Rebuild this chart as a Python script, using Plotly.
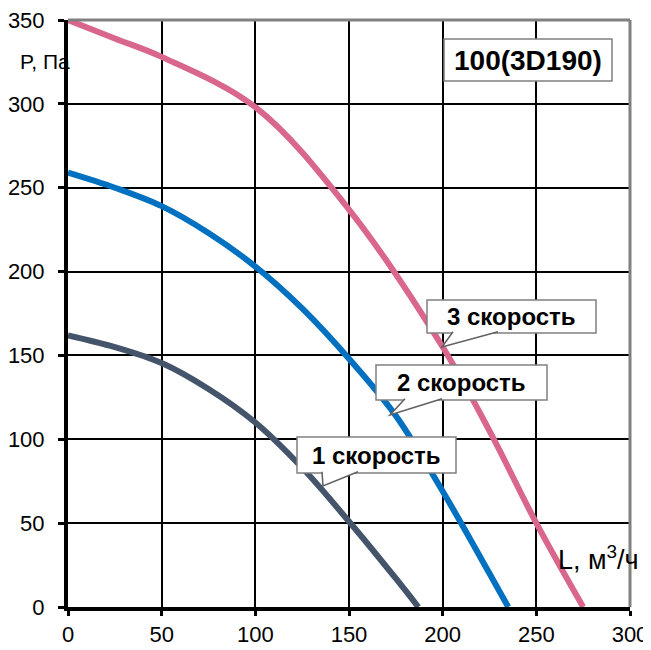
import plotly.graph_objects as go

# ---- data ----
flow_3 = [0, 25, 50, 100, 150, 200, 225, 250, 275]
pres_3 = [350, 339, 328, 298, 237, 155, 105, 50, 0]

flow_2 = [0, 25, 50, 75, 100, 125, 150, 175, 200, 225, 235]
pres_2 = [259, 250, 239, 223, 203, 178, 148, 114, 69, 20, 0]

flow_1 = [0, 25, 50, 75, 100, 125, 150, 175, 187]
pres_1 = [162, 155, 145.5, 130, 110, 83, 51, 17, 0]

x_ticks = [0, 50, 100, 150, 200, 250, 300]
y_ticks = [0, 50, 100, 150, 200, 250, 300, 350]

series_names = ["1 скорость", "2 скорость", "3 скорость"]
series_colors = ["#44546A", "#0070C0", "#D9668C"]
title_text = "100(3D190)"
y_title = "P, Па"
x_title = "L, м<sup>3</sup>/ч"

# page body has an 8px margin; compensate so the plot area lands at 68..630 x 20..607
OFF = 8
L, R, T, B = 68 - OFF, 630 - OFF, 20 - OFF, 607 - OFF
W, H = 643, 642

def px(x):
    return (x - OFF - L) / (R - L)

def py(y):
    return (B - (y - OFF)) / (B - T)

FONT = "Liberation Sans, Arial, sans-serif"

fig = go.Figure()
for fx, fy, name, col in [(flow_1, pres_1, series_names[0], series_colors[0]),
                          (flow_2, pres_2, series_names[1], series_colors[1]),
                          (flow_3, pres_3, series_names[2], series_colors[2])]:
    fig.add_trace(go.Scatter(x=fx, y=fy, mode="lines", name=name,
                             line=dict(color=col, width=6, shape="spline", smoothing=1.0),
                             showlegend=False, hoverinfo="skip"))

axis_common = dict(showgrid=True, gridcolor="black", gridwidth=2,
                   showline=True, linecolor="black", linewidth=4,
                   ticks="outside", tickwidth=3, tickcolor="black",
                   zeroline=False, automargin=False, ticklabeloverflow="allow",
                   tickfont=dict(family=FONT, size=22, color="black"))

fig.update_xaxes(range=[0, 300], tickvals=x_ticks, ticklen=5, ticklabelstandoff=0, **axis_common)
fig.update_yaxes(range=[0, 350], tickvals=y_ticks, ticklen=6, ticklabelstandoff=9, **axis_common)

shapes = []
shapes.append(dict(type="line", xref="paper", yref="paper", x0=0, x1=1, y0=1, y1=1,
                   line=dict(color="#808080", width=3), layer="above"))
shapes.append(dict(type="line", xref="paper", yref="paper", x0=1, x1=1, y0=0, y1=1,
                   line=dict(color="#808080", width=3), layer="above"))

annotations = []

def box(x0, x1, y0, y1, text, size, tail=None):
    shapes.append(dict(type="rect", xref="paper", yref="paper",
                       x0=px(x0), x1=px(x1), y0=py(y1), y1=py(y0),
                       fillcolor="white", line=dict(color="#808080", width=1.5), layer="above"))
    if tail:
        bl, br, tx, ty = tail
        yb = y1 - 1.2
        path = f"M {px(bl)} {py(yb)} L {px(tx)} {py(ty)} L {px(br)} {py(yb)}"
        shapes.append(dict(type="path", xref="paper", yref="paper", path=path,
                           fillcolor="white", line=dict(color="#606060", width=1.5), layer="above"))
    annotations.append(dict(xref="paper", yref="paper", x=px((x0 + x1) / 2), y=py((y0 + y1) / 2),
                            text=f"<b>{text}</b>", showarrow=False, xanchor="center", yanchor="middle",
                            font=dict(family=FONT, size=size, color="black")))

box(444, 612, 39, 81, title_text, 28)
box(427, 596, 300, 333, series_names[2], 24, tail=(453, 498, 442, 347))
box(376, 547, 365, 400, series_names[1], 24, tail=(405, 442, 390, 415))
box(297, 456, 437, 473, series_names[0], 24, tail=(322, 358, 323, 486))

annotations.append(dict(xref="paper", yref="paper", x=px(72), y=py(61), text=y_title,
                        showarrow=False, xanchor="right", yanchor="middle",
                        font=dict(family=FONT, size=21, color="black")))
annotations.append(dict(xref="paper", yref="paper", x=px(556), y=py(558), text=x_title,
                        showarrow=False, xanchor="left", yanchor="middle",
                        font=dict(family=FONT, size=27, color="black")))

fig.update_layout(width=W, height=H, margin=dict(l=L, r=W - R, t=T, b=H - B),
                  paper_bgcolor="white", plot_bgcolor="white",
                  shapes=shapes, annotations=annotations, showlegend=False)

fig.write_html("out.html")
